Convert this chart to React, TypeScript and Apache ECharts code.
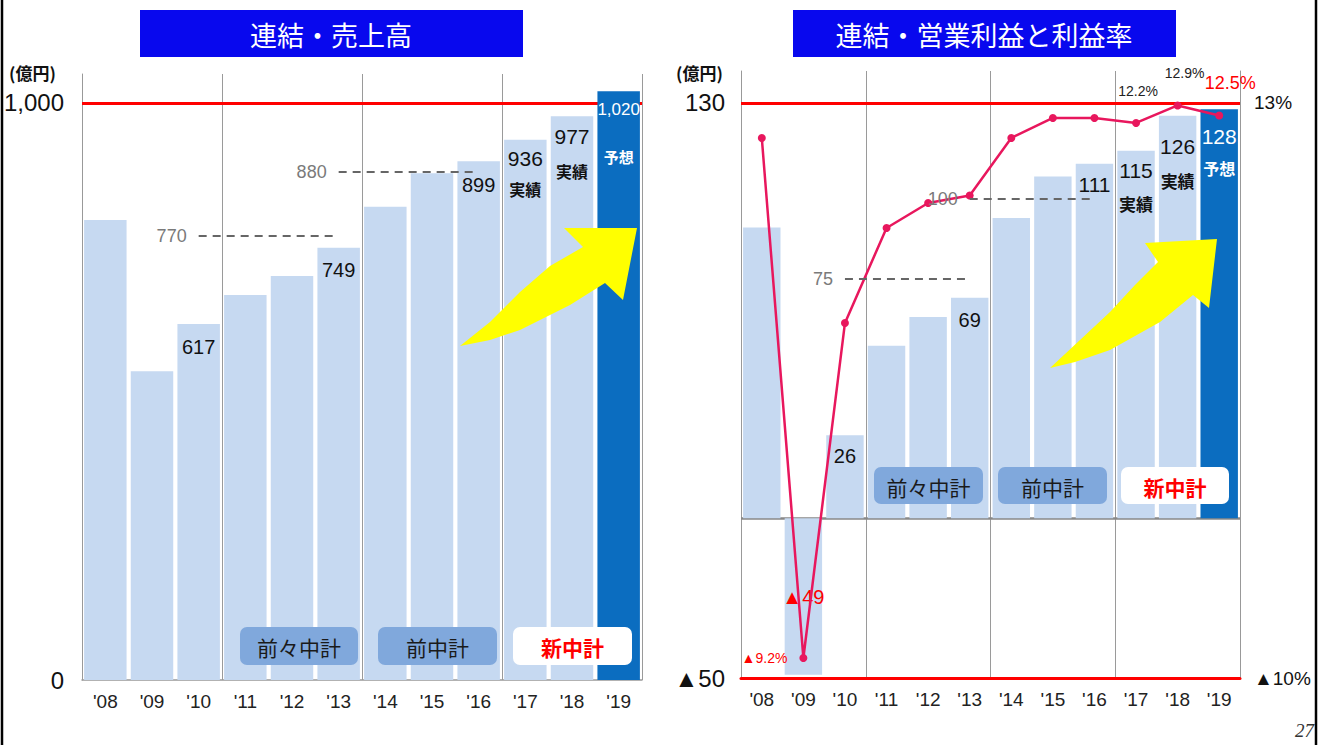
import React, { useEffect, useRef } from "react";
import * as echarts from "echarts";

// ---------- data ----------
const YEARS = ["'08", "'09", "'10", "'11", "'12", "'13", "'14", "'15", "'16", "'17", "'18", "'19"];

const SALES = [797, 535, 617, 667, 700, 749, 820, 878, 899, 936, 977, 1020];
const SALES_LABELED = [2, 5, 8, 9, 10, 11];
const SALES_NOTES = ["", "", "", "", "", "", "", "", "", "実績", "実績", "予想"];
const SALES_TARGETS = [
  { value: 770, from: 2, to: 5 },
  { value: 880, from: 5, to: 8 },
];
const SALES_REF_LINE = 1000;
const SALES_AXIS_LABELS = [0, 1000];

const PROFIT = [91, -49, 26, 54, 63, 69, 94, 107, 111, 115, 126, 128];
const PROFIT_LABELED = [1, 2, 5, 8, 9, 10, 11];
const PROFIT_NOTES = ["", "", "", "", "", "", "", "", "", "実績", "実績", "予想"];
const PROFIT_TARGETS = [
  { value: 75, from: 2, to: 5 },
  { value: 100, from: 5, to: 8 },
];
const PROFIT_REF_LINE = 130;
const PROFIT_AXIS_LABELS = [-50, 130];

const MARGIN = [11.6, -9.2, 4.2, 8.0, 9.0, 9.3, 11.6, 12.4, 12.4, 12.2, 12.9, 12.5];
const MARGIN_LABELED = [1, 9, 10, 11];
const MARGIN_AXIS_LABELS = [-10, 13];

const FORECAST_INDEX = 11;
const PLANS = ["前々中計", "前中計", "新中計"];
const TITLES = ["連結・売上高", "連結・営業利益と利益率"];
const UNIT = "(億円)";

// ---------- styles ----------
const NARROW = "'Liberation Sans Narrow', 'Arial Narrow', 'Liberation Sans', sans-serif";
const JP = "'Noto Sans CJK JP', sans-serif";
const LIGHT = "#C6D9F1";
const DARK = "#0B6DC0";
const LINE_RED = "#E8175D";
const PLAN_FILL = "#80A8DC";

const fmt = (v: number) =>
  v < 0 ? "▲" + Math.abs(v).toLocaleString("en-US") : v.toLocaleString("en-US");
const fmtPct = (v: number) => (v < 0 ? "▲" + Math.abs(v).toFixed(1) : v.toFixed(1)) + "%";

// label placement (style only)
const SALES_LABEL_POS: Record<number, { d: number; size: number; lh: number; noteLh: number; noteSize: number }> = {
  2: { d: 12, size: 20, lh: 22, noteLh: 0, noteSize: 0 },
  5: { d: 11, size: 20, lh: 22, noteLh: 0, noteSize: 0 },
  8: { d: 13, size: 20, lh: 22, noteLh: 0, noteSize: 0 },
  9: { d: 6, size: 21, lh: 26, noteLh: 34, noteSize: 16 },
  10: { d: 7, size: 21, lh: 26, noteLh: 44, noteSize: 16 },
  11: { d: 6, size: 17, lh: 24, noteLh: 70, noteSize: 15 },
};
const PROFIT_LABEL_POS: Record<number, { d: number; size: number; lh: number; noteLh: number; noteSize: number }> = {
  2: { d: 10, size: 20, lh: 22, noteLh: 0, noteSize: 0 },
  5: { d: 11, size: 20, lh: 22, noteLh: 0, noteSize: 0 },
  8: { d: 10, size: 21, lh: 22, noteLh: 0, noteSize: 0 },
  9: { d: 7, size: 21, lh: 26, noteLh: 40, noteSize: 17 },
  10: { d: 18, size: 21, lh: 26, noteLh: 42, noteSize: 17 },
  11: { d: 14, size: 21, lh: 26, noteLh: 38, noteSize: 16 },
};

function barLabel(value: number, note: string, p: any, white: boolean) {
  const color = white ? "#fff" : "#111";
  if (value < 0) {
    return {
      show: true,
      position: "inside",
      formatter: fmt(value),
      color: "#FF0000",
      fontSize: 20,
      fontFamily: NARROW,
    };
  }
  if (!note) {
    return {
      show: true,
      position: "insideTop",
      distance: p.d,
      formatter: fmt(value),
      color,
      fontSize: p.size,
      lineHeight: p.lh,
      fontFamily: NARROW,
    };
  }
  return {
    show: true,
    position: "insideTop",
    distance: p.d,
    formatter: `{v|${fmt(value)}}\n{n|${note}}`,
    rich: {
      v: { fontSize: p.size, lineHeight: p.lh, color, fontFamily: NARROW },
      n: { fontSize: p.noteSize, lineHeight: p.noteLh, color, fontWeight: "bold", fontFamily: JP },
    },
  };
}

function barData(values: number[], labeled: number[], notes: string[], pos: any) {
  return values.map((v, i) => {
    const isF = i === FORECAST_INDEX;
    const item: any = { value: v, itemStyle: { color: isF ? DARK : LIGHT } };
    if (labeled.includes(i)) item.label = barLabel(v, notes[i], pos[i] || {}, isF);
    return item;
  });
}

function targetLines(targets: { value: number; from: number; to: number }[]) {
  return targets.map((t) => {
    const label = {
      show: true,
      position: "start",
      distance: 12,
      formatter: String(t.value),
      color: "#7a7a7a",
      fontSize: 18,
      fontFamily: NARROW,
    };
    return [
      { coord: [YEARS[t.from], t.value], label },
      { coord: [YEARS[t.to], t.value], label },
    ];
  });
}

const MARGIN_LABEL_STYLE: Record<number, any> = {
  1: { position: "left", distance: 12, color: "#FF0000", fontSize: 14 },
  9: { position: "top", offset: [2, -16], color: "#222", fontSize: 14 },
  10: { position: "top", offset: [7, -16], color: "#222", fontSize: 14 },
  11: { position: "top", offset: [11, -14], color: "#FF0000", fontSize: 18 },
};

function marginData() {
  return MARGIN.map((v, i) => {
    const item: any = { value: v };
    if (MARGIN_LABELED.includes(i)) {
      item.label = { show: true, formatter: fmtPct(v), fontFamily: NARROW, ...MARGIN_LABEL_STYLE[i] };
    }
    return item;
  });
}

const splitEvery3 = (i: number) => i === 3 || i === 6 || i === 9;

// percent axis aligned with the amount axis: -50 <-> -10%, 130 <-> 13%
const AMT_MIN = -50;
const AMT_MAX = 140;
const PCT_MIN = -10;
const PCT_MAX = PCT_MIN + ((AMT_MAX - AMT_MIN) * (13 - PCT_MIN)) / (130 - AMT_MIN);

function buildOption(): any {
  const xCommon = {
    type: "category",
    data: YEARS,
    axisTick: { show: false },
    axisLabel: { fontSize: 19, color: "#222", fontFamily: NARROW, margin: 12 },
    splitLine: { show: true, interval: splitEvery3, lineStyle: { color: "#9a9a9a", width: 1 } },
  };
  const planBox = (x: number, y: number, w: number, h: number, text: string, isNew: boolean) => ({
    type: "group",
    z: 100,
    children: [
      {
        type: "rect",
        shape: { x, y, width: w, height: h, r: 7 },
        style: { fill: isNew ? "#ffffff" : PLAN_FILL },
        z: 100,
      },
      {
        type: "text",
        z: 101,
        style: {
          text,
          x: x + w / 2,
          y: y + h / 2 + 1,
          align: "center",
          verticalAlign: "middle",
          fill: isNew ? "#FF0000" : "#1a1a1a",
          fontSize: 21,
          fontWeight: isNew ? "bold" : "normal",
          fontFamily: JP,
        },
      },
    ],
  });
  const titleBox = (x: number, text: string) => ({
    type: "group",
    children: [
      { type: "rect", shape: { x, y: 10, width: 383, height: 47 }, style: { fill: "#0808EE" } },
      {
        type: "text",
        style: {
          text,
          x: x + 191,
          y: 34,
          align: "center",
          verticalAlign: "middle",
          fill: "#fff",
          fontSize: 27,
          fontFamily: JP,
        },
      },
    ],
  });

  return {
    animation: false,
    backgroundColor: "#ffffff",
    grid: [
      { left: 82, top: 74, width: 560, height: 606 },
      { left: 741, top: 71, width: 499, height: 607 },
    ],
    xAxis: [
      { ...xCommon, gridIndex: 0, axisLine: { lineStyle: { color: "#999", width: 1.5 } } },
      { ...xCommon, gridIndex: 1, axisLine: { onZero: false, lineStyle: { color: "#FF0000", width: 3 } } },
    ],
    yAxis: [
      {
        gridIndex: 0,
        type: "value",
        min: 0,
        max: 1050,
        interval: 1000,
        axisLine: { show: true, lineStyle: { color: "#999" } },
        axisTick: { show: false },
        splitLine: { show: false },
        axisLabel: {
          fontSize: 24,
          color: "#111",
          fontFamily: NARROW,
          margin: 18,
          formatter: (v: number) => (SALES_AXIS_LABELS.includes(v) ? fmt(v) : ""),
        },
      },
      {
        gridIndex: 1,
        type: "value",
        min: AMT_MIN,
        max: AMT_MAX,
        interval: 10,
        axisLine: { show: true, lineStyle: { color: "#999" } },
        axisTick: { show: false },
        splitLine: { show: false },
        axisLabel: {
          fontSize: 24,
          color: "#111",
          fontFamily: NARROW,
          margin: 16,
          formatter: (v: number) => (PROFIT_AXIS_LABELS.includes(v) ? fmt(v) : ""),
        },
      },
      {
        gridIndex: 1,
        type: "value",
        position: "right",
        min: PCT_MIN,
        max: PCT_MAX,
        interval: 1,
        axisLine: { show: true, lineStyle: { color: "#999" } },
        axisTick: { show: false },
        splitLine: { show: false },
        axisLabel: {
          fontSize: 19,
          color: "#111",
          fontFamily: NARROW,
          margin: 14,
          formatter: (v: number) => (MARGIN_AXIS_LABELS.includes(v) ? fmtPct(v).replace(".0", "") : ""),
        },
      },
    ],
    series: [
      {
        type: "line",
        xAxisIndex: 0,
        yAxisIndex: 0,
        data: [],
        markLine: {
          z: 1,
          silent: true,
          symbol: "none",
          label: { show: false },
          lineStyle: { color: "#FF0000", width: 3, type: "solid" },
          data: [{ yAxis: SALES_REF_LINE }],
        },
      },
      {
        type: "bar",
        xAxisIndex: 0,
        yAxisIndex: 0,
        barCategoryGap: "9%",
        clip: false,
        z: 2,
        data: barData(SALES, SALES_LABELED, SALES_NOTES, SALES_LABEL_POS),
        markLine: {
          silent: true,
          symbol: "none",
          lineStyle: { color: "#666", width: 2, type: [8, 6] },
          data: targetLines(SALES_TARGETS),
        },
      },
      {
        type: "line",
        xAxisIndex: 1,
        yAxisIndex: 1,
        data: [],
        markLine: {
          z: 1,
          silent: true,
          symbol: "none",
          label: { show: false },
          data: [
            { yAxis: PROFIT_REF_LINE, lineStyle: { color: "#FF0000", width: 3, type: "solid" } },
            { yAxis: 0, lineStyle: { color: "#888", width: 2.5, type: "solid" } },
          ],
        },
      },
      {
        type: "bar",
        xAxisIndex: 1,
        yAxisIndex: 1,
        barCategoryGap: "10%",
        z: 2,
        data: barData(PROFIT, PROFIT_LABELED, PROFIT_NOTES, PROFIT_LABEL_POS),
        markLine: {
          silent: true,
          symbol: "none",
          lineStyle: { color: "#666", width: 2, type: [8, 6] },
          data: targetLines(PROFIT_TARGETS),
        },
      },
      {
        type: "line",
        xAxisIndex: 1,
        yAxisIndex: 2,
        z: 4,
        symbol: "circle",
        symbolSize: 8,
        itemStyle: { color: LINE_RED },
        lineStyle: { color: LINE_RED, width: 2.5 },
        data: marginData(),
      },
    ],
    graphic: [
      { type: "line", shape: { x1: 2, y1: 0, x2: 2, y2: 745 }, style: { stroke: "#000", lineWidth: 2.5 } },
      { type: "line", shape: { x1: 1316, y1: 0, x2: 1316, y2: 745 }, style: { stroke: "#000", lineWidth: 2.5 } },
      titleBox(140, TITLES[0]),
      titleBox(793, TITLES[1]),
      {
        type: "text",
        style: { text: UNIT, x: 9, y: 72, verticalAlign: "middle", fill: "#111", fontSize: 17, fontWeight: "bold", fontFamily: JP },
      },
      {
        type: "text",
        style: { text: UNIT, x: 676, y: 72, verticalAlign: "middle", fill: "#111", fontSize: 17, fontWeight: "bold", fontFamily: JP },
      },
      {
        type: "text",
        style: { text: "27", x: 1314, y: 730, align: "right", verticalAlign: "middle", fill: "#333", fontSize: 19, fontStyle: "italic", fontFamily: "'Liberation Serif', serif" },
      },
      planBox(240, 627, 118, 38, PLANS[0], false),
      planBox(378, 627, 119, 38, PLANS[1], false),
      planBox(513, 627, 119, 38, PLANS[2], true),
      planBox(874, 467, 109, 37, PLANS[0], false),
      planBox(998, 467, 109, 37, PLANS[1], false),
      planBox(1121, 467, 108, 37, PLANS[2], true),
      {
        type: "polygon",
        z: 100,
        shape: {
          points: [
            [460, 346], [490, 322], [520, 292], [550, 266], [583, 247], [564, 228], [637, 228],
            [623, 300], [605, 283], [570, 305], [520, 330], [490, 340],
          ],
        },
        style: { fill: "#FFFF00" },
      },
      {
        type: "polygon",
        z: 100,
        shape: {
          points: [
            [1050, 368], [1080, 340], [1110, 312], [1135, 285], [1158, 262], [1145, 243], [1217, 239],
            [1209, 308], [1193, 295], [1160, 322], [1110, 350], [1075, 362],
          ],
        },
        style: { fill: "#FFFF00" },
      },
    ],
  };
}

export default function App() {
  const ref = useRef<HTMLDivElement>(null);
  useEffect(() => {
    const chart = echarts.init(ref.current!, undefined, { renderer: "svg" });
    chart.setOption(buildOption());
    return () => chart.dispose();
  }, []);
  return (
    <div
      ref={ref}
      style={{ position: "fixed", left: 0, top: 0, width: 1322, height: 745, background: "#fff" }}
    />
  );
}
